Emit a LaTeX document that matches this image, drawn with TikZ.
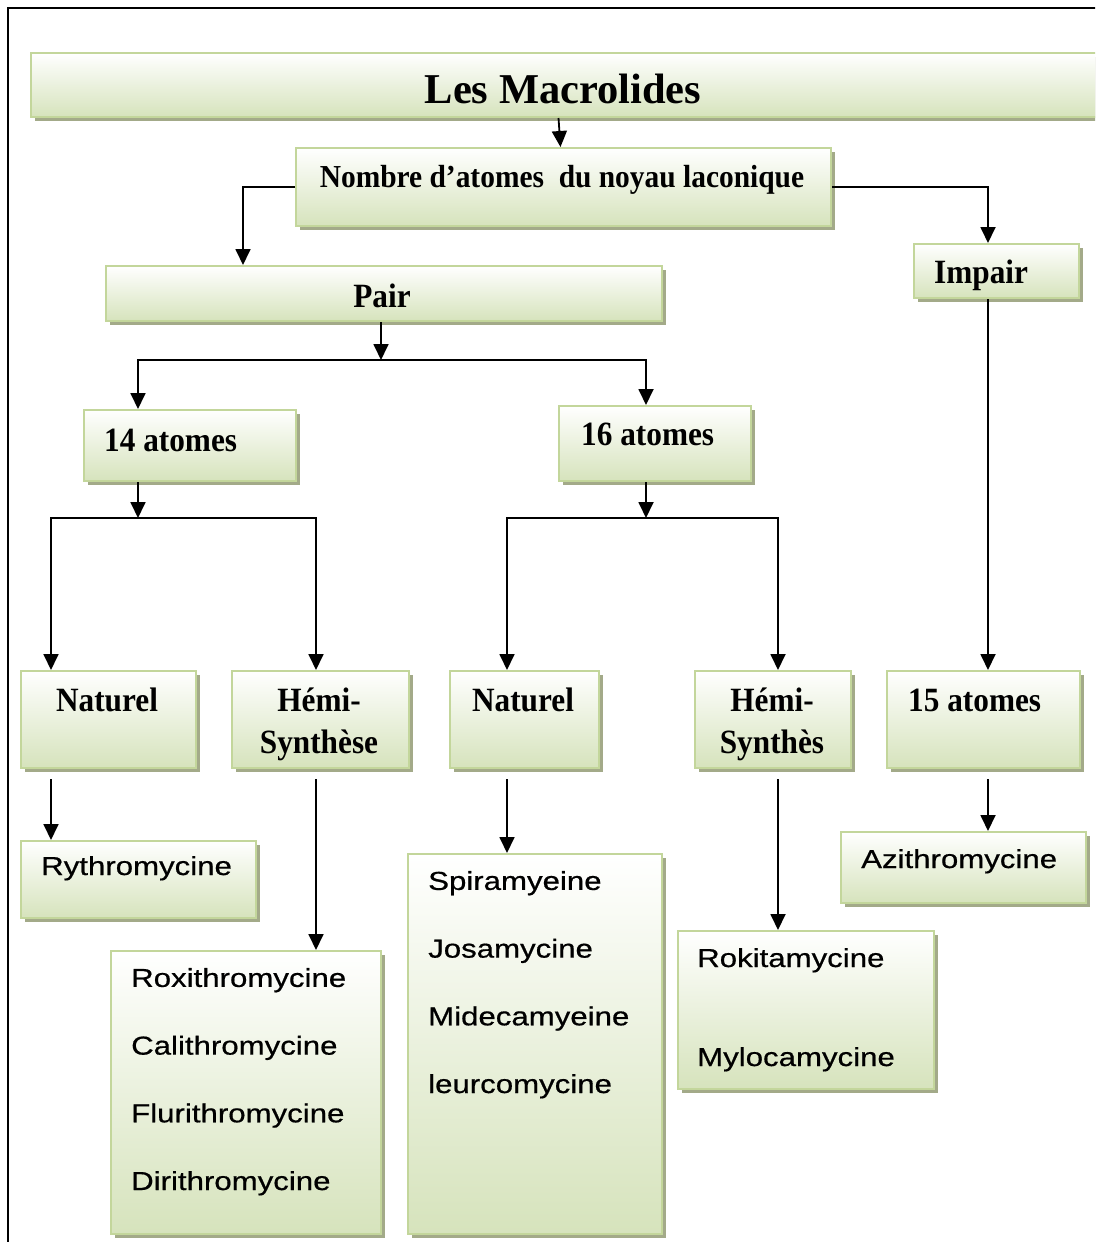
\documentclass[tikz,border=0pt]{standalone}
\usepackage{fontspec}
\setmainfont{Liberation Serif}
\newfontfamily\lblfont[FakeStretch=0.92]{Liberation Serif}
\newfontfamily\drugfont[FakeStretch=1.2,FakeBold=0.6]{Liberation Sans}
\usetikzlibrary{arrows.meta, positioning, shadows}
\definecolor{boxline}{RGB}{195,214,155}
\definecolor{boxfill}{RGB}{214,227,188}
\definecolor{boxshadow}{RGB}{163,170,137}

\begin{document}
\begin{tikzpicture}[x=1pt, y=-1pt,
    box/.style={draw=boxline, line width=2pt, top color=white, bottom color=boxfill,
      drop shadow={shadow xshift=4pt, shadow yshift=-4pt, fill=boxshadow, opacity=1},
      anchor=north west, inner sep=0pt},
    lbl/.style={font=\lblfont\bfseries\fontsize{34}{42}\selectfont, anchor=base, inner sep=0pt},
    drug/.style={font=\drugfont\fontsize{26}{67.7}\selectfont, anchor=base west, align=left, inner sep=0pt},
    arr/.style={line width=1.8pt, -{Triangle[length=16pt,width=15pt]}}
  ]
    \useasboundingbox (0,0) rectangle (1095,1242);
    \clip (0,0) rectangle (1095,1242);
    \draw[line width=2pt] (8,1250) |- (1110,8);

    % boxes
    \node[box, minimum width=1070pt, minimum height=64pt] (title) at (30,52) {};
    \node[box, minimum width=535pt, minimum height=78pt] (nombre) at (295,147) {};
    \node[box, minimum width=556pt, minimum height=55pt] (pair) at (105,265) {};
    \node[box, minimum width=165pt, minimum height=54pt] (impair) at (913,243) {};
    \node[box, minimum width=212pt, minimum height=71pt] (at14) at (83,409) {};
    \node[box, minimum width=192pt, minimum height=75pt] (at16) at (558,405) {};
    \node[box, minimum width=175pt, minimum height=97pt] (nat14) at (20,670) {};
    \node[box, minimum width=177pt, minimum height=97pt] (hemi14) at (231,670) {};
    \node[box, minimum width=149pt, minimum height=97pt] (nat16) at (449,670) {};
    \node[box, minimum width=156pt, minimum height=97pt] (hemi16) at (694,670) {};
    \node[box, minimum width=193pt, minimum height=97pt] (at15) at (886,670) {};
    \node[box, minimum width=235pt, minimum height=77pt] (ery) at (20,840) {};
    \node[box, minimum width=270pt, minimum height=283pt] (list14) at (110,950) {};
    \node[box, minimum width=254pt, minimum height=380pt] (list16) at (407,853) {};
    \node[box, minimum width=256pt, minimum height=158pt] (roki) at (677,930) {};
    \node[box, minimum width=245pt, minimum height=71pt] (azi) at (840,831) {};

    % labels (multi-line ones sit on their last baseline)
    \node[font=\bfseries\fontsize{42.5}{50}\selectfont, anchor=base, inner sep=0pt] (titletxt) at (563,103) {Les Macrolides};
    \node[lbl, font=\lblfont\bfseries\fontsize{32}{38}\selectfont] (nombretxt) at (562,187) {Nombre d’atomes\ \ du noyau laconique};
    \node[lbl] (pairtxt) at (382,307) {Pair};
    \node[lbl, anchor=base west] (impairtxt) at (934,283) {Impair};
    \node[lbl, anchor=base west] (at14txt) at (104,451) {14 atomes};
    \node[lbl, anchor=base west] (at16txt) at (581,445) {16 atomes};
    \node[lbl] (nat14txt) at (107,711) {Naturel};
    \node[lbl, align=center] (hemi14txt) at (319,753) {Hémi-\\Synthèse};
    \node[lbl] (nat16txt) at (523,711) {Naturel};
    \node[lbl, align=center] (hemi16txt) at (772,753) {Hémi-\\Synthès};
    \node[lbl, anchor=base west] (at15txt) at (908,711) {15 atomes};

    \node[drug] (erytxt) at (41,875) {Rythromycine};
    \node[drug] (list14txt) at (131,1190) {Roxithromycine\\Calithromycine\\Flurithromycine\\Dirithromycine};
    \node[drug] (list16txt) at (428,1093) {Spiramyeine\\Josamycine\\Midecamyeine\\leurcomycine};
    \node[drug] (rokitxt) at (697,1066) {Rokitamycine\\[31.3pt]Mylocamycine};
    \node[drug] (azitxt) at (861,868) {Azithromycine};

    % connectors
    \coordinate (split1) at (381,360);
    \coordinate (split14) at (138,518);
    \coordinate (split16) at (646,518);

    \draw[arr] ([xshift=-5pt]title.south -| nombre.north) -- ([xshift=-3pt]nombre.north);
    \draw[arr] (nombre.west) -| ([xshift=138pt]pair.north west);
    \draw[arr] (nombre.east) -| ([xshift=75pt]impair.north west);
    \draw[arr] (pair.south -| split1) -- (split1);
    \draw[arr] (split1) -| ([xshift=55pt]at14.north west);
    \draw[arr] (split1) -| ([xshift=88pt]at16.north west);
    \draw[arr] (at14.south -| split14) -- (split14);
    \draw[arr] (split14) -| ([xshift=31pt]nat14.north west);
    \draw[arr] (split14) -| ([xshift=85pt]hemi14.north west);
    \draw[arr] (at16.south -| split16) -- (split16);
    \draw[arr] (split16) -| ([xshift=58pt]nat16.north west);
    \draw[arr] (split16) -| ([xshift=84pt]hemi16.north west);
    \draw[arr] ([xshift=75pt]impair.south west) -- ([xshift=102pt]at15.north west);
    \draw[arr, shorten <=10pt] ([xshift=31pt]nat14.south west) -- ([xshift=31pt]ery.north west);
    \draw[arr, shorten <=10pt] ([xshift=85pt]hemi14.south west) -- ([xshift=206pt]list14.north west);
    \draw[arr, shorten <=10pt] ([xshift=58pt]nat16.south west) -- ([xshift=100pt]list16.north west);
    \draw[arr, shorten <=10pt] ([xshift=84pt]hemi16.south west) -- ([xshift=101pt]roki.north west);
    \draw[arr, shorten <=10pt] ([xshift=102pt]at15.south west) -- ([xshift=148pt]azi.north west);
  \end{tikzpicture}
\end{document}
